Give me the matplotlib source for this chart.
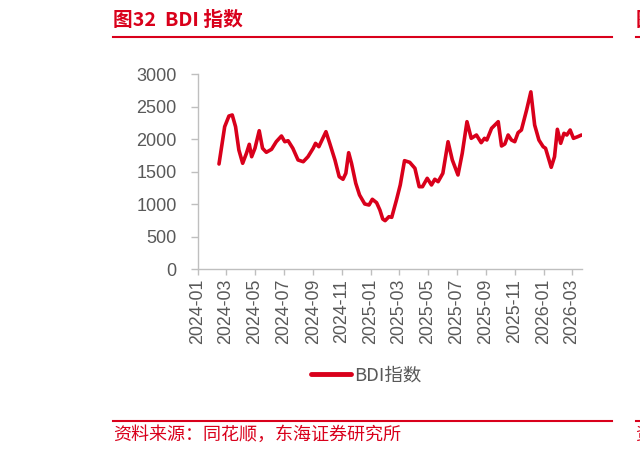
import matplotlib

matplotlib.use("Agg")
import matplotlib.dates as mdates
import matplotlib.pyplot as plt
import pandas as pd
from matplotlib.lines import Line2D

RED = "#d9001b"
GRAY_TXT = "#595959"
GRAY_AX = "#bfbfbf"

TITLE = "图32  BDI 指数"
SOURCE = "资料来源：同花顺，东海证券研究所"
SERIES_NAME = "BDI指数"

DATES = [
    "2024-02-15", "2024-02-27", "2024-03-07", "2024-03-14", "2024-03-21",
    "2024-03-28", "2024-04-05", "2024-04-13", "2024-04-19", "2024-04-24",
    "2024-05-01", "2024-05-10", "2024-05-17", "2024-05-25", "2024-06-05",
    "2024-06-15", "2024-06-26", "2024-07-03", "2024-07-10", "2024-07-20",
    "2024-07-31", "2024-08-11", "2024-08-21", "2024-09-01", "2024-09-06",
    "2024-09-13", "2024-09-28", "2024-10-06", "2024-10-17", "2024-10-26",
    "2024-11-03", "2024-11-09", "2024-11-15", "2024-11-21", "2024-11-30",
    "2024-12-08", "2024-12-19", "2024-12-28", "2025-01-04", "2025-01-13",
    "2025-01-20", "2025-01-26", "2025-01-31", "2025-02-08", "2025-02-14",
    "2025-02-24", "2025-03-04", "2025-03-13", "2025-03-24", "2025-04-04",
    "2025-04-13", "2025-04-20", "2025-04-30", "2025-05-09", "2025-05-16",
    "2025-05-23", "2025-06-02", "2025-06-13", "2025-06-22", "2025-07-04",
    "2025-07-13", "2025-07-23", "2025-08-01", "2025-08-12", "2025-08-22",
    "2025-08-29", "2025-09-03", "2025-09-13", "2025-09-27", "2025-10-04",
    "2025-10-11", "2025-10-18", "2025-10-25", "2025-11-01", "2025-11-08",
    "2025-11-15", "2025-11-26", "2025-12-05", "2025-12-13", "2025-12-22",
    "2025-12-31", "2026-01-05", "2026-01-17", "2026-01-24", "2026-01-30",
    "2026-02-06", "2026-02-13", "2026-02-19", "2026-02-26", "2026-03-05",
    "2026-03-14", "2026-03-22",
]

BDI = [
    1620, 2194, 2358, 2374, 2194,
    1835, 1631, 1785, 1923, 1732,
    1862, 2132, 1862, 1800, 1846,
    1963, 2051, 1963, 1978, 1862,
    1682, 1655, 1732, 1862, 1938,
    1886, 2117, 1938, 1682, 1425,
    1385, 1477, 1794, 1631, 1323,
    1143, 1005, 989, 1077, 1025,
    912, 774, 748, 809, 800,
    1066, 1297, 1671, 1646, 1554,
    1271, 1271, 1400, 1297, 1385,
    1348, 1477, 1963, 1682, 1451,
    1785, 2271, 2015, 2066, 1948,
    2015, 1989, 2169, 2271, 1897,
    1928, 2066, 1989, 1963, 2102,
    2143, 2451, 2730, 2220, 1989,
    1886, 1862, 1569, 1732, 2154,
    1938, 2092, 2066, 2143, 2015,
    2040, 2066,
]

Y_TICKS = [0, 500, 1000, 1500, 2000, 2500, 3000]

plt.rcParams["font.family"] = ["Liberation Sans", "Noto Sans CJK SC", "DejaVu Sans"]
CJK = ["Noto Sans CJK SC", "DejaVu Sans"]

W, H = 640, 453
fig = plt.figure(figsize=(W / 100, H / 100), dpi=100)


def fx(px):
    return px / W


def fy(py):
    return 1 - py / H


# header / footer decoration (incl. the sliver of the next figure at the right edge)
fig.text(fx(113), fy(20.5), TITLE, color=RED, fontsize=14.2, fontweight="bold",
         family=CJK, va="center", ha="left")
fig.text(fx(635.5), fy(20.5), "图", color=RED, fontsize=14.2, fontweight="bold",
         family=CJK, va="center", ha="left", clip_on=True)
for x0, x1 in [(113, 612), (635.5, 641)]:
    fig.add_artist(Line2D([fx(x0), fx(x1)], [fy(37), fy(37)], color=RED, lw=1.5))
    fig.add_artist(Line2D([fx(x0), fx(x1)], [fy(421), fy(421)], color=RED, lw=1.5))
fig.text(fx(113), fy(435), SOURCE, color=RED, fontsize=13, family=CJK,
         va="center", ha="left")
fig.text(fx(635.5), fy(435), "资", color=RED, fontsize=13, family=CJK,
         va="center", ha="left")

ax = fig.add_axes([fx(197.7), fy(269.3), fx(581.5 - 197.7), (269.3 - 74.3) / H])

dates = pd.to_datetime(DATES)
ax.plot(dates, BDI, color=RED, lw=2.6, solid_capstyle="round", label=SERIES_NAME)

ax.set_ylim(0, 3000)
ax.set_yticks(Y_TICKS)
ax.set_xlim(pd.Timestamp("2024-01-01"), dates[-1])
ax.xaxis.set_major_locator(mdates.MonthLocator(bymonth=[1, 3, 5, 7, 9, 11]))
ax.xaxis.set_major_formatter(mdates.DateFormatter("%Y-%m"))

for s in ["top", "right"]:
    ax.spines[s].set_visible(False)
for s in ["left", "bottom"]:
    ax.spines[s].set_color(GRAY_AX)
    ax.spines[s].set_linewidth(1.0)

ax.tick_params(axis="y", colors=GRAY_AX, labelcolor=GRAY_TXT, labelsize=13,
               length=5, width=1, pad=10)
ax.tick_params(axis="x", colors=GRAY_AX, labelcolor=GRAY_TXT, labelsize=12.8,
               length=4, width=1, pad=3, labelrotation=90)

leg = ax.legend(loc="center", bbox_to_anchor=(fx(366), fy(375.5)),
                bbox_transform=fig.transFigure, frameon=False, handlelength=2.2,
                handletextpad=0.15, prop={"family": CJK, "size": 13.3})
for t in leg.get_texts():
    t.set_color(GRAY_TXT)
for h in leg.legend_handles:
    h.set_linewidth(3.5)

fig.savefig("out.png", dpi=100)
